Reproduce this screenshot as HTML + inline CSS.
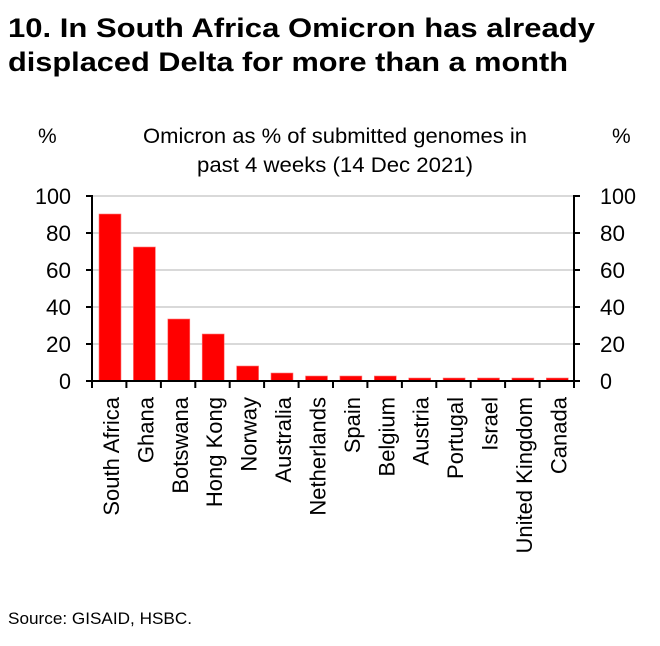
<!DOCTYPE html>
<html><head><style>
html,body{margin:0;padding:0;background:#fff;}
svg{display:block;font-family:"Liberation Sans",Arial,sans-serif;}
</style></head><body>
<svg width="660" height="646" viewBox="0 0 660 646">
<text x="8" y="37" font-size="27" font-weight="bold" fill="#000" textLength="587" lengthAdjust="spacingAndGlyphs">10. In South Africa Omicron has already</text>
<text x="8" y="71" font-size="27" font-weight="bold" fill="#000" textLength="560" lengthAdjust="spacingAndGlyphs">displaced Delta for more than a month</text>
<text x="38" y="143" font-size="21" fill="#000">%</text>
<text x="612" y="143" font-size="21" fill="#000">%</text>
<text x="143" y="143" font-size="21" fill="#000" textLength="384" lengthAdjust="spacingAndGlyphs">Omicron as % of submitted genomes in</text>
<text x="197" y="172" font-size="21" fill="#000" textLength="276" lengthAdjust="spacingAndGlyphs">past 4 weeks (14 Dec 2021)</text>
<g stroke="#d9d9d9" stroke-width="2">
<line x1="93" y1="196" x2="574" y2="196"/>
<line x1="93" y1="233" x2="574" y2="233"/>
<line x1="93" y1="270" x2="574" y2="270"/>
<line x1="93" y1="307" x2="574" y2="307"/>
<line x1="93" y1="344" x2="574" y2="344"/>
</g>
<g fill="#ff0000" stroke="#ff7777" stroke-width="0.6">
<rect x="99" y="214" width="22" height="167"/>
<rect x="133.4" y="247" width="22" height="134"/>
<rect x="167.8" y="319" width="22" height="62"/>
<rect x="202.2" y="334" width="22" height="47"/>
<rect x="236.6" y="366" width="22" height="15"/>
<rect x="271" y="373" width="22" height="8"/>
<rect x="305.5" y="376" width="22" height="5"/>
<rect x="339.9" y="376" width="22" height="5"/>
<rect x="374.3" y="376" width="22" height="5"/>
<rect x="408.7" y="378" width="22" height="3"/>
<rect x="443.1" y="378" width="22" height="3"/>
<rect x="477.5" y="378" width="22" height="3"/>
<rect x="511.9" y="378" width="22" height="3"/>
<rect x="546.3" y="378" width="22" height="3"/>
</g>
<g stroke="#000" stroke-width="2" fill="none">
<line x1="92" y1="195" x2="92" y2="381"/>
<line x1="574" y1="195" x2="574" y2="381"/>
<line x1="86" y1="381" x2="580" y2="381"/>
<path d="M86 196h6M86 233h6M86 270h6M86 307h6M86 344h6"/>
<path d="M574 196h6M574 233h6M574 270h6M574 307h6M574 344h6"/>
<path d="M92 381v7M126.4 381v7M160.9 381v7M195.3 381v7M229.7 381v7M264.1 381v7M298.6 381v7M333 381v7M367.4 381v7M401.9 381v7M436.3 381v7M470.7 381v7M505.1 381v7M539.6 381v7M574 381v7"/>
</g>
<g font-size="22" fill="#000" text-anchor="end">
<text x="71" y="204" textLength="36" lengthAdjust="spacingAndGlyphs">100</text>
<text x="71" y="241" textLength="25" lengthAdjust="spacingAndGlyphs">80</text>
<text x="71" y="278" textLength="25" lengthAdjust="spacingAndGlyphs">60</text>
<text x="71" y="315" textLength="25" lengthAdjust="spacingAndGlyphs">40</text>
<text x="71" y="352" textLength="25" lengthAdjust="spacingAndGlyphs">20</text>
<text x="71" y="389" textLength="12" lengthAdjust="spacingAndGlyphs">0</text>
</g>
<g font-size="22" fill="#000">
<text x="600" y="204" textLength="36" lengthAdjust="spacingAndGlyphs">100</text>
<text x="600" y="241" textLength="25" lengthAdjust="spacingAndGlyphs">80</text>
<text x="600" y="278" textLength="25" lengthAdjust="spacingAndGlyphs">60</text>
<text x="600" y="315" textLength="25" lengthAdjust="spacingAndGlyphs">40</text>
<text x="600" y="352" textLength="25" lengthAdjust="spacingAndGlyphs">20</text>
<text x="600" y="389" textLength="12" lengthAdjust="spacingAndGlyphs">0</text>
</g>
<g font-size="22" fill="#000" text-anchor="end">
<text transform="translate(119,397) rotate(-90)">South Africa</text>
<text transform="translate(153.4,397) rotate(-90)">Ghana</text>
<text transform="translate(187.8,397) rotate(-90)">Botswana</text>
<text transform="translate(222.2,397) rotate(-90)">Hong Kong</text>
<text transform="translate(256.6,397) rotate(-90)">Norway</text>
<text transform="translate(291,397) rotate(-90)">Australia</text>
<text transform="translate(325.5,397) rotate(-90)">Netherlands</text>
<text transform="translate(359.9,397) rotate(-90)">Spain</text>
<text transform="translate(394.3,397) rotate(-90)">Belgium</text>
<text transform="translate(428.7,397) rotate(-90)">Austria</text>
<text transform="translate(463.1,397) rotate(-90)">Portugal</text>
<text transform="translate(497.5,397) rotate(-90)">Israel</text>
<text transform="translate(531.9,397) rotate(-90)">United Kingdom</text>
<text transform="translate(566.3,397) rotate(-90)">Canada</text>
</g>
<text x="8" y="624" font-size="17" fill="#000" textLength="184" lengthAdjust="spacingAndGlyphs">Source: GISAID, HSBC.</text>
</svg>
</body></html>
